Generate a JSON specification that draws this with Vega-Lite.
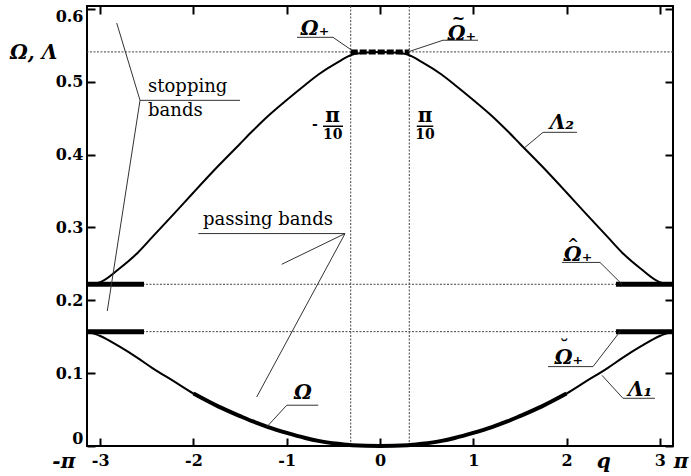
{
  "$schema": "https://vega.github.io/schema/vega-lite/v6.json",
  "width": 586,
  "height": 440,
  "autosize": {"type": "none"},
  "padding": {"left": 87, "top": 6, "right": 18, "bottom": 30},
  "background": "white",
  "config": {
    "view": {"stroke": "black", "strokeWidth": 2},
    "axis": {"domain": false, "grid": false, "tickColor": "black", "tickWidth": 2, "tickSize": -8, "labelFont": "DejaVu Serif", "labelFontWeight": "bold", "labelFontSize": 16, "labelColor": "black"}
  },
  "datasets": {
    "curves": [
      {"s": "L2", "q": -3.1416, "v": 0.222}, {"s": "L2", "q": -3.0, "v": 0.225}, {"s": "L2", "q": -2.8, "v": 0.243}, {"s": "L2", "q": -2.6, "v": 0.265}, {"s": "L2", "q": -2.44, "v": 0.287}, {"s": "L2", "q": -2.2, "v": 0.320}, {"s": "L2", "q": -2.0, "v": 0.348}, {"s": "L2", "q": -1.73, "v": 0.385}, {"s": "L2", "q": -1.5, "v": 0.415}, {"s": "L2", "q": -1.37, "v": 0.432}, {"s": "L2", "q": -1.2, "v": 0.453}, {"s": "L2", "q": -1.0, "v": 0.475}, {"s": "L2", "q": -0.8, "v": 0.496}, {"s": "L2", "q": -0.66, "v": 0.510}, {"s": "L2", "q": -0.45, "v": 0.527}, {"s": "L2", "q": -0.3, "v": 0.537}, {"s": "L2", "q": -0.15, "v": 0.540}, {"s": "L2", "q": 0, "v": 0.541},
      {"s": "L2", "q": 0.15, "v": 0.540}, {"s": "L2", "q": 0.3, "v": 0.537}, {"s": "L2", "q": 0.45, "v": 0.527}, {"s": "L2", "q": 0.66, "v": 0.510}, {"s": "L2", "q": 0.8, "v": 0.496}, {"s": "L2", "q": 1.0, "v": 0.475}, {"s": "L2", "q": 1.2, "v": 0.453}, {"s": "L2", "q": 1.37, "v": 0.432}, {"s": "L2", "q": 1.5, "v": 0.415}, {"s": "L2", "q": 1.73, "v": 0.385}, {"s": "L2", "q": 2.0, "v": 0.348}, {"s": "L2", "q": 2.2, "v": 0.320}, {"s": "L2", "q": 2.44, "v": 0.287}, {"s": "L2", "q": 2.6, "v": 0.265}, {"s": "L2", "q": 2.8, "v": 0.243}, {"s": "L2", "q": 3.0, "v": 0.225}, {"s": "L2", "q": 3.1416, "v": 0.222},
      {"s": "L1", "q": -3.1416, "v": 0.157}, {"s": "L1", "q": -3.0, "v": 0.151}, {"s": "L1", "q": -2.8, "v": 0.137}, {"s": "L1", "q": -2.6, "v": 0.121}, {"s": "L1", "q": -2.44, "v": 0.107}, {"s": "L1", "q": -2.2, "v": 0.088}, {"s": "L1", "q": -2.0, "v": 0.072}, {"s": "L1", "q": -1.73, "v": 0.054}, {"s": "L1", "q": -1.5, "v": 0.041}, {"s": "L1", "q": -1.37, "v": 0.034}, {"s": "L1", "q": -1.2, "v": 0.026}, {"s": "L1", "q": -1.0, "v": 0.018}, {"s": "L1", "q": -0.8, "v": 0.011}, {"s": "L1", "q": -0.66, "v": 0.007}, {"s": "L1", "q": -0.45, "v": 0.003}, {"s": "L1", "q": -0.3, "v": 0.001}, {"s": "L1", "q": 0, "v": 0.0},
      {"s": "L1", "q": 0.3, "v": 0.001}, {"s": "L1", "q": 0.45, "v": 0.003}, {"s": "L1", "q": 0.66, "v": 0.007}, {"s": "L1", "q": 0.8, "v": 0.011}, {"s": "L1", "q": 1.0, "v": 0.018}, {"s": "L1", "q": 1.2, "v": 0.026}, {"s": "L1", "q": 1.37, "v": 0.034}, {"s": "L1", "q": 1.5, "v": 0.041}, {"s": "L1", "q": 1.73, "v": 0.054}, {"s": "L1", "q": 2.0, "v": 0.072}, {"s": "L1", "q": 2.2, "v": 0.088}, {"s": "L1", "q": 2.44, "v": 0.107}, {"s": "L1", "q": 2.6, "v": 0.121}, {"s": "L1", "q": 2.8, "v": 0.137}, {"s": "L1", "q": 3.0, "v": 0.151}, {"s": "L1", "q": 3.1416, "v": 0.157}
    ],
    "hlines": [{"v": 0.541}, {"v": 0.222}, {"v": 0.157}],
    "vlines": [{"q": -0.314}, {"q": 0.314}],
    "bands": [
      {"q1": -3.1416, "q2": -2.53, "v": 0.222}, {"q1": 2.53, "q2": 3.1416, "v": 0.222},
      {"q1": -3.1416, "q2": -2.53, "v": 0.157}, {"q1": 2.53, "q2": 3.1416, "v": 0.157}
    ],
    "topband": [{"q1": -0.314, "q2": 0.314, "v": 0.541}],
    "leaders": [
      {"q1": -0.890, "v1": 0.561, "q2": -0.504, "v2": 0.561},
      {"q1": -0.504, "v1": 0.561, "q2": -0.300, "v2": 0.543},
      {"q1": 0.300, "v1": 0.541, "q2": 0.675, "v2": 0.557},
      {"q1": 0.675, "v1": 0.557, "q2": 1.051, "v2": 0.557},
      {"q1": 1.748, "v1": 0.4306, "q2": 2.112, "v2": 0.4306},
      {"q1": 1.748, "v1": 0.4306, "q2": 1.555, "v2": 0.410},
      {"q1": 1.951, "v1": 0.252, "q2": 2.359, "v2": 0.252},
      {"q1": 2.359, "v1": 0.252, "q2": 2.595, "v2": 0.222},
      {"q1": 1.801, "v1": 0.109, "q2": 2.284, "v2": 0.109},
      {"q1": 2.284, "v1": 0.109, "q2": 2.573, "v2": 0.157},
      {"q1": 2.605, "v1": 0.0655, "q2": 2.948, "v2": 0.0655},
      {"q1": 2.605, "v1": 0.0655, "q2": 2.380, "v2": 0.097},
      {"q1": -1.000, "v1": 0.056, "q2": -0.662, "v2": 0.056},
      {"q1": -1.000, "v1": 0.056, "q2": -1.215, "v2": 0.026},
      {"q1": -2.573, "v1": 0.4745, "q2": -1.501, "v2": 0.4745},
      {"q1": -2.573, "v1": 0.4745, "q2": -2.823, "v2": 0.5806},
      {"q1": -2.573, "v1": 0.4745, "q2": -2.924, "v2": 0.1853},
      {"q1": -1.948, "v1": 0.2916, "q2": -0.375, "v2": 0.2916},
      {"q1": -0.375, "v1": 0.2916, "q2": -1.054, "v2": 0.2494},
      {"q1": -0.375, "v1": 0.2916, "q2": -1.322, "v2": 0.0673}
    ],
    "fracbars": [
      {"q1": -0.611, "q2": -0.397, "v": 0.4389},
      {"q1": 0.394, "q2": 0.571, "v": 0.4389}
    ],
    "greek": [
      {"t": "Ω₊", "q": -0.697, "v": 0.572},
      {"t": "Ω₊", "q": 0.879, "v": 0.566},
      {"t": "Λ₂", "q": 1.951, "v": 0.444},
      {"t": "Ω₊", "q": 2.123, "v": 0.2625},
      {"t": "Ω₊", "q": 2.026, "v": 0.1205},
      {"t": "Λ₁", "q": 2.788, "v": 0.0765},
      {"t": "Ω", "q": -0.826, "v": 0.0724},
      {"t": "q", "q": 2.40, "v": -0.0224},
      {"t": "π", "q": 3.227, "v": -0.0224},
      {"t": "-π", "q": -3.39, "v": -0.0224},
      {"t": "Ω, Λ", "q": -3.715, "v": 0.539}
    ],
    "accents": [
      {"t": "~", "q": 0.84, "v": 0.5855, "sz": 16},
      {"t": "^", "q": 2.07, "v": 0.2765, "sz": 14},
      {"t": "˘", "q": 1.975, "v": 0.1345, "sz": 18}
    ],
    "plain": [
      {"t": "stopping", "q": -2.487, "v": 0.4922},
      {"t": "bands", "q": -2.487, "v": 0.4597},
      {"t": "passing  bands", "q": -1.898, "v": 0.3098}
    ],
    "frac": [
      {"t": "π", "q": -0.508, "v": 0.4526, "k": "pi"},
      {"t": "π", "q": 0.482, "v": 0.4526, "k": "pi"},
      {"t": "10", "q": -0.508, "v": 0.4268, "k": "ten"},
      {"t": "10", "q": 0.482, "v": 0.4268, "k": "ten"},
      {"t": "-", "q": -0.697, "v": 0.441, "k": "ten"}
    ]
  },
  "layer": [
    {
      "data": {"name": "hlines"},
      "mark": {"type": "rule", "color": "#444", "strokeWidth": 1, "strokeDash": [2, 1.5]},
      "encoding": {
        "y": {"field": "v", "type": "quantitative", "scale": {"domain": [0, 0.604], "nice": false, "zero": false}, "axis": null}
      }
    },
    {
      "data": {"name": "vlines"},
      "mark": {"type": "rule", "color": "#444", "strokeWidth": 1, "strokeDash": [2, 1.5]},
      "encoding": {
        "x": {"field": "q", "type": "quantitative", "scale": {"domain": [-3.1416, 3.1416], "nice": false, "zero": false}, "axis": null}
      }
    },
    {
      "data": {"name": "curves"},
      "mark": {"type": "line", "color": "black", "strokeWidth": 2, "interpolate": "monotone"},
      "encoding": {
        "x": {"field": "q", "type": "quantitative", "scale": {"domain": [-3.1416, 3.1416], "nice": false, "zero": false},
              "axis": {"orient": "bottom", "values": [-3, -2, -1, 0, 1, 2, 3], "labelPadding": 14, "labelExpr": "(datum.value < 0 ? '-' : '') + abs(datum.value)", "title": null}},
        "y": {"field": "v", "type": "quantitative", "scale": {"domain": [0, 0.604], "nice": false, "zero": false},
              "axis": {"orient": "left", "values": [0, 0.1, 0.2, 0.3, 0.4, 0.5, 0.6], "labelFlush": 4, "labelPadding": 12, "labelExpr": "datum.value == 0 ? '0' : format(datum.value, '.1f')", "title": null}},
        "detail": {"field": "s"}
      }
    },
    {
      "data": {"name": "curves"},
      "transform": [{"filter": "datum.s == 'L1' && abs(datum.q) <= 2.0"}],
      "mark": {"type": "line", "color": "black", "strokeWidth": 4, "interpolate": "monotone"},
      "encoding": {
        "x": {"field": "q", "type": "quantitative", "scale": {"domain": [-3.1416, 3.1416], "nice": false, "zero": false}, "axis": null},
        "y": {"field": "v", "type": "quantitative", "scale": {"domain": [0, 0.604], "nice": false, "zero": false}, "axis": null}
      }
    },
    {
      "data": {"name": "bands"},
      "mark": {"type": "rule", "color": "black", "strokeWidth": 5},
      "encoding": {
        "x": {"field": "q1", "type": "quantitative", "scale": {"domain": [-3.1416, 3.1416], "nice": false, "zero": false},
              "axis": {"orient": "top", "values": [-3, -2, -1, 0, 1, 2, 3], "labels": false, "title": null}},
        "x2": {"field": "q2"},
        "y": {"field": "v", "type": "quantitative", "scale": {"domain": [0, 0.604], "nice": false, "zero": false},
              "axis": {"orient": "right", "values": [0, 0.1, 0.2, 0.3, 0.4, 0.5, 0.6], "labels": false, "title": null}}
      }
    },
    {
      "data": {"name": "topband"},
      "mark": {"type": "rule", "color": "black", "strokeWidth": 5, "strokeDash": [7, 2]},
      "encoding": {
        "x": {"field": "q1", "type": "quantitative", "scale": {"domain": [-3.1416, 3.1416], "nice": false, "zero": false}, "axis": null},
        "x2": {"field": "q2"},
        "y": {"field": "v", "type": "quantitative", "scale": {"domain": [0, 0.604], "nice": false, "zero": false}, "axis": null}
      }
    },
    {
      "data": {"name": "leaders"},
      "mark": {"type": "rule", "color": "#333", "strokeWidth": 1},
      "encoding": {
        "x": {"field": "q1", "type": "quantitative", "scale": {"domain": [-3.1416, 3.1416], "nice": false, "zero": false}, "axis": null},
        "x2": {"field": "q2"},
        "y": {"field": "v1", "type": "quantitative", "scale": {"domain": [0, 0.604], "nice": false, "zero": false}, "axis": null},
        "y2": {"field": "v2"}
      }
    },
    {
      "data": {"name": "fracbars"},
      "mark": {"type": "rule", "color": "black", "strokeWidth": 1.5},
      "encoding": {
        "x": {"field": "q1", "type": "quantitative", "scale": {"domain": [-3.1416, 3.1416], "nice": false, "zero": false}, "axis": null},
        "x2": {"field": "q2"},
        "y": {"field": "v", "type": "quantitative", "scale": {"domain": [0, 0.604], "nice": false, "zero": false}, "axis": null}
      }
    },
    {
      "data": {"name": "greek"},
      "mark": {"type": "text", "font": "DejaVu Serif", "fontStyle": "italic", "fontWeight": "bold", "fontSize": 20, "color": "black", "align": "center", "baseline": "middle", "clip": false},
      "encoding": {
        "x": {"field": "q", "type": "quantitative", "scale": {"domain": [-3.1416, 3.1416], "nice": false, "zero": false}, "axis": null},
        "y": {"field": "v", "type": "quantitative", "scale": {"domain": [0, 0.604], "nice": false, "zero": false}, "axis": null},
        "text": {"field": "t"}
      }
    },
    {
      "data": {"name": "accents"},
      "mark": {"type": "text", "font": "DejaVu Serif", "fontWeight": "bold", "color": "black", "align": "center", "baseline": "middle"},
      "encoding": {
        "x": {"field": "q", "type": "quantitative", "scale": {"domain": [-3.1416, 3.1416], "nice": false, "zero": false}, "axis": null},
        "y": {"field": "v", "type": "quantitative", "scale": {"domain": [0, 0.604], "nice": false, "zero": false}, "axis": null},
        "text": {"field": "t"},
        "size": {"field": "sz", "type": "quantitative", "scale": null}
      }
    },
    {
      "data": {"name": "plain"},
      "mark": {"type": "text", "font": "DejaVu Serif", "fontSize": 18, "color": "black", "align": "left", "baseline": "middle"},
      "encoding": {
        "x": {"field": "q", "type": "quantitative", "scale": {"domain": [-3.1416, 3.1416], "nice": false, "zero": false}, "axis": null},
        "y": {"field": "v", "type": "quantitative", "scale": {"domain": [0, 0.604], "nice": false, "zero": false}, "axis": null},
        "text": {"field": "t"}
      }
    },
    {
      "data": {"name": "frac"},
      "mark": {"type": "text", "font": "DejaVu Serif", "fontWeight": "bold", "color": "black", "align": "center", "baseline": "middle"},
      "encoding": {
        "x": {"field": "q", "type": "quantitative", "scale": {"domain": [-3.1416, 3.1416], "nice": false, "zero": false}, "axis": null},
        "y": {"field": "v", "type": "quantitative", "scale": {"domain": [0, 0.604], "nice": false, "zero": false}, "axis": null},
        "text": {"field": "t"},
        "fontStyle": {"condition": {"test": "datum.k == 'pi'", "value": "italic"}, "value": "normal"},
        "size": {"condition": {"test": "datum.k == 'pi'", "value": 20}, "value": 14}
      }
    }
  ],
  "resolve": {"axis": {"x": "independent", "y": "independent"}}
}
